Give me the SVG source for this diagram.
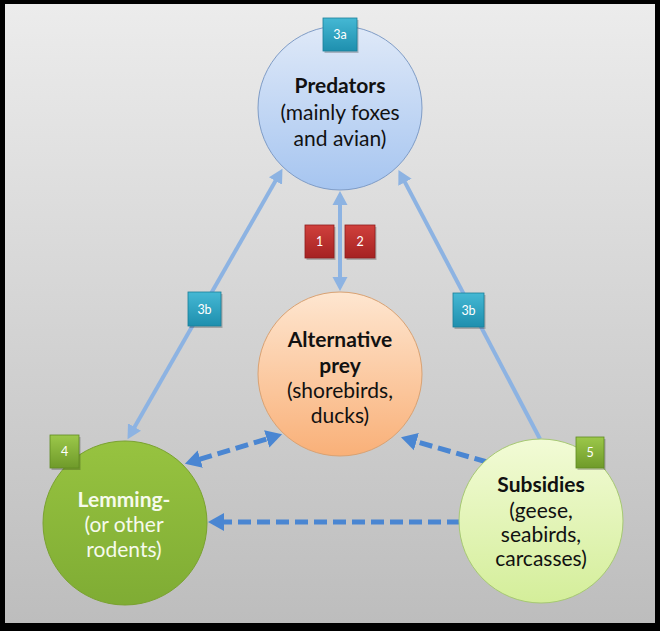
<svg xmlns="http://www.w3.org/2000/svg" width="660" height="631" viewBox="0 0 660 631">
<defs>
<linearGradient id="bg" x1="0" y1="0" x2="0" y2="1">
<stop offset="0" stop-color="#ececec"/>
<stop offset="1" stop-color="#bdbdbd"/>
</linearGradient>
<linearGradient id="gPred" x1="0" y1="0" x2="0" y2="1">
<stop offset="0" stop-color="#dfe9f8"/>
<stop offset="1" stop-color="#a6c5f0"/>
</linearGradient>
<linearGradient id="gAlt" x1="0" y1="0" x2="0" y2="1">
<stop offset="0" stop-color="#fee6d0"/>
<stop offset="1" stop-color="#f9b078"/>
</linearGradient>
<linearGradient id="gLem" x1="0" y1="0" x2="0" y2="1">
<stop offset="0" stop-color="#97c340"/>
<stop offset="1" stop-color="#7fac34"/>
</linearGradient>
<linearGradient id="gSub" x1="0" y1="0" x2="0" y2="1">
<stop offset="0" stop-color="#f2fbd6"/>
<stop offset="1" stop-color="#d4ee9a"/>
</linearGradient>
<linearGradient id="gTeal" x1="0" y1="0" x2="0" y2="1">
<stop offset="0" stop-color="#45b8d4"/>
<stop offset="1" stop-color="#1e8fae"/>
</linearGradient>
<linearGradient id="gRed" x1="0" y1="0" x2="0" y2="1">
<stop offset="0" stop-color="#d0403c"/>
<stop offset="1" stop-color="#a52222"/>
</linearGradient>
<linearGradient id="gGreen" x1="0" y1="0" x2="0" y2="1">
<stop offset="0" stop-color="#9cc84a"/>
<stop offset="1" stop-color="#6f9a2a"/>
</linearGradient>
<marker id="hL" markerUnits="userSpaceOnUse" markerWidth="16" markerHeight="18" viewBox="0 -9 16 18" refX="1" refY="0" orient="auto-start-reverse">
<path d="M0,-7.5 L14,0 L0,7.5 z" fill="#8db3e2"/>
</marker>
<marker id="hD" markerUnits="userSpaceOnUse" markerWidth="18" markerHeight="20" viewBox="0 -10 18 20" refX="1" refY="0" orient="auto-start-reverse">
<path d="M0,-9 L16,0 L0,9 z" fill="#4a86d2"/>
</marker>
</defs>
<style>
.node-label{font-family:Lato,"Liberation Sans",sans-serif;text-anchor:middle;fill:#111}
.hd{font-weight:bold;font-size:21px}
.sb{font-size:21px}
.badge text{font-family:Lato,"Liberation Sans",sans-serif;font-size:12.5px;fill:#fff;text-anchor:middle}
.badge .sh{fill:#000;opacity:0.22}
.solid{stroke:#8db3e2;stroke-width:4;fill:none}
.dash{stroke:#4a86d2;stroke-width:5;fill:none;stroke-dasharray:13 6}
</style>
<rect x="0" y="0" width="660" height="631" fill="#000"/>
<rect x="5" y="4" width="650" height="619" fill="url(#bg)"/>

<g id="connectors">
<line class="solid" x1="340" y1="204" x2="340" y2="278" marker-start="url(#hL)" marker-end="url(#hL)"/>
<line class="solid" x1="134" y1="427.9" x2="276" y2="180.1" marker-start="url(#hL)" marker-end="url(#hL)"/>
<line class="solid" x1="540" y1="439" x2="404.5" y2="181.4" marker-end="url(#hL)"/>
<line class="dash" x1="199.3" y1="459.4" x2="267.7" y2="438.6" marker-start="url(#hD)" marker-end="url(#hD)"/>
<line class="dash" x1="487" y1="462" x2="415.4" y2="441.4" marker-end="url(#hD)"/>
<line class="dash" x1="460" y1="522" x2="223" y2="522" marker-end="url(#hD)"/>
</g>

<g id="predators">
<circle cx="340" cy="108" r="82" fill="url(#gPred)" stroke="#7f9cc6" stroke-width="1"/>
<text class="node-label hd" x="340" y="93">Predators</text>
<text class="node-label sb" x="340" y="120">(mainly foxes</text>
<text class="node-label sb" x="340" y="146">and avian)</text>
</g>

<g id="alternative-prey">
<circle cx="340" cy="374" r="82" fill="url(#gAlt)" stroke="#d9a273" stroke-width="1"/>
<text class="node-label hd" x="340" y="347">Alternative</text>
<text class="node-label hd" x="340" y="373">prey</text>
<text class="node-label sb" x="340" y="398">(shorebirds,</text>
<text class="node-label sb" x="340" y="423">ducks)</text>
</g>

<g id="lemming">
<circle cx="125" cy="523" r="82" fill="url(#gLem)" stroke="#7aa230" stroke-width="1"/>
<text class="node-label hd" x="124" y="507" style="fill:#f6faec">Lemming-</text>
<text class="node-label sb" x="124" y="532" style="fill:#f6faec">(or other</text>
<text class="node-label sb" x="124" y="557" style="fill:#f6faec">rodents)</text>
</g>

<g id="subsidies">
<circle cx="541" cy="521" r="82" fill="url(#gSub)" stroke="#a6c873" stroke-width="1"/>
<text class="node-label hd" x="541" y="492">Subsidies</text>
<text class="node-label sb" x="541" y="518">(geese,</text>
<text class="node-label sb" x="541" y="542">seabirds,</text>
<text class="node-label sb" x="541" y="566">carcasses)</text>
</g>

<g id="badge-3a" class="badge">
<rect class="sh" x="324.5" y="20" width="34" height="33"/>
<rect x="323" y="18" width="34" height="33" fill="url(#gTeal)" stroke="#1a7f9a" stroke-width="0.8"/>
<text x="340" y="39">3a</text>
</g>
<g id="badge-1" class="badge">
<rect class="sh" x="306.5" y="227" width="29" height="33"/>
<rect x="305" y="225" width="29" height="33" fill="url(#gRed)" stroke="#8e1c1c" stroke-width="0.8"/>
<text x="319.5" y="246">1</text>
</g>
<g id="badge-2" class="badge">
<rect class="sh" x="346.5" y="227" width="30" height="33"/>
<rect x="345" y="225" width="30" height="33" fill="url(#gRed)" stroke="#8e1c1c" stroke-width="0.8"/>
<text x="360" y="246">2</text>
</g>
<g id="badge-3b-left" class="badge">
<rect class="sh" x="189.5" y="294" width="33" height="34"/>
<rect x="188" y="292" width="33" height="34" fill="url(#gTeal)" stroke="#1a7f9a" stroke-width="0.8"/>
<text x="204.5" y="313.5">3b</text>
</g>
<g id="badge-3b-right" class="badge">
<rect class="sh" x="454.5" y="295" width="31" height="34"/>
<rect x="453" y="293" width="31" height="34" fill="url(#gTeal)" stroke="#1a7f9a" stroke-width="0.8"/>
<text x="468.5" y="314.5">3b</text>
</g>
<g id="badge-4" class="badge">
<rect class="sh" x="51.5" y="437" width="29" height="33"/>
<rect x="50" y="435" width="29" height="33" fill="url(#gGreen)" stroke="#5f8a22" stroke-width="0.8"/>
<text x="64.5" y="456">4</text>
</g>
<g id="badge-5" class="badge">
<rect class="sh" x="577.5" y="439" width="28" height="31"/>
<rect x="576" y="437" width="28" height="31" fill="url(#gGreen)" stroke="#5f8a22" stroke-width="0.8"/>
<text x="590" y="457">5</text>
</g>
</svg>
